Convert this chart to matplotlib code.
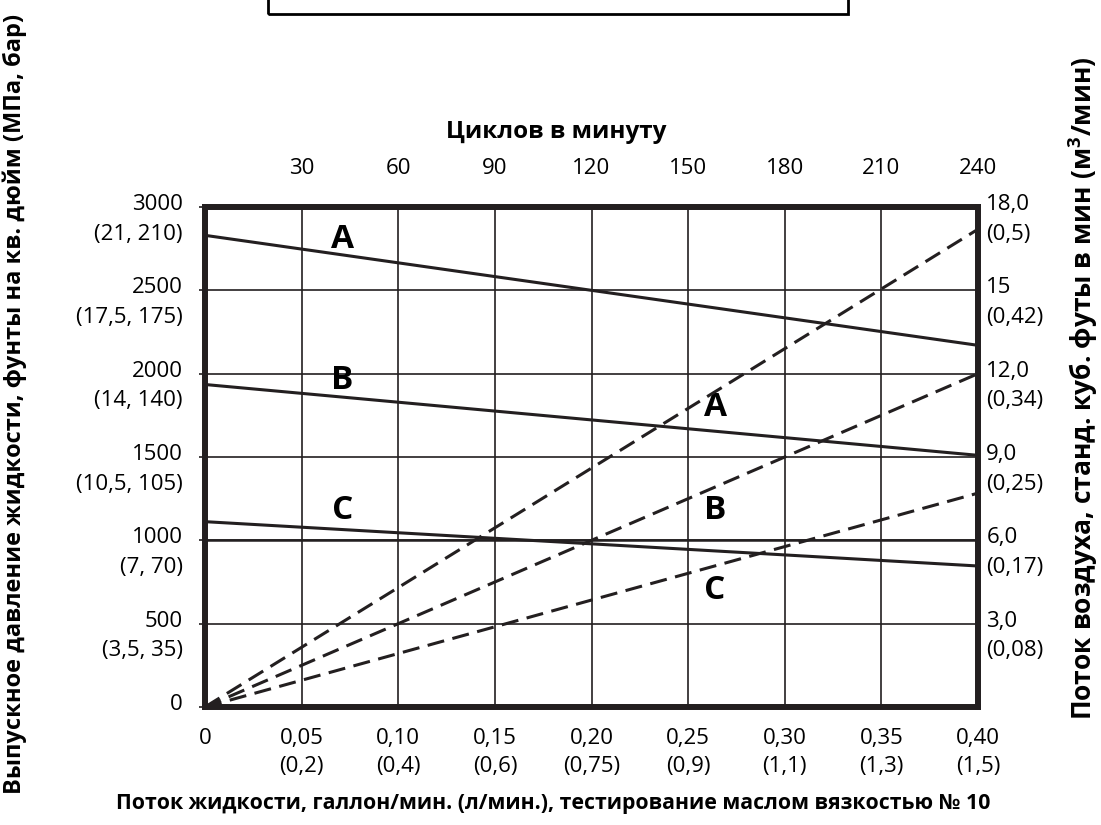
import numpy as np
import matplotlib
matplotlib.use("Agg")
from matplotlib import pyplot as plt
from matplotlib.patches import Rectangle
from matplotlib.transforms import ScaledTranslation

# --- data ---
flow_gpm = [0.0, 0.40]
pressure_A = [2830, 2170]
pressure_B = [1935, 1510]
pressure_C = [1112, 846]
air_A = [0.0, 17.2]
air_B = [0.0, 12.0]
air_C = [0.0, 7.7]

x_ticks = [0, 0.05, 0.10, 0.15, 0.20, 0.25, 0.30, 0.35, 0.40]
x_labels = ["0\n ", "0,05\n(0,2)", "0,10\n(0,4)", "0,15\n(0,6)", "0,20\n(0,75)",
            "0,25\n(0,9)", "0,30\n(1,1)", "0,35\n(1,3)", "0,40\n(1,5)"]
cycle_ticks = [30, 60, 90, 120, 150, 180, 210, 240]
psi_ticks = [0, 500, 1000, 1500, 2000, 2500, 3000]
psi_labels = ["0\n ", "500\n(3,5, 35)", "1000\n(7, 70)", "1500\n(10,5, 105)",
              "2000\n(14, 140)", "2500\n(17,5, 175)", "3000\n(21, 210)"]
scfm_ticks = [3, 6, 9, 12, 15, 18]
scfm_labels = ["3,0\n(0,08)", "6,0\n(0,17)", "9,0\n(0,25)", "12,0\n(0,34)",
               "15\n(0,42)", "18,0\n(0,5)"]

ink = "#231f20"
plt.rcParams['font.family'] = ['Open Sans', 'DejaVu Sans']
plt.rcParams['mathtext.fontset'] = 'custom'
plt.rcParams['mathtext.bf'] = 'Open Sans:bold'
tick_fs = 16
W, H = 1101, 825

fig = plt.figure(figsize=(11.01, 8.25), dpi=100)
ax = fig.add_axes([205 / W, 1 - 707 / H, 773 / W, 500 / H])
ax.set_xlim(0, 0.40)
ax.set_ylim(0, 3000)

# grid
ax.set_xticks(x_ticks)
ax.set_yticks(psi_ticks)
ax.grid(True, color=ink, lw=1.2)
ax.axhline(1000, color=ink, lw=1.8)

for s in ax.spines.values():
    s.set_linewidth(4)
    s.set_color(ink)

# pressure curves (solid)
for p in [pressure_A, pressure_B, pressure_C]:
    ax.plot(flow_gpm, p, color=ink, lw=2.2, solid_capstyle='butt')

# air curves on right axis (dashed)
ax2 = ax.twinx()
ax2.set_ylim(0, 18)
for a in [air_A, air_B, air_C]:
    line, = ax2.plot(flow_gpm, a, color=ink, lw=2.2)
    line.set_dashes([5.6, 2.8])

# top axis: cycles per minute
ax3 = ax.twiny()
ax3.set_xlim(0, 240)
ax3.set_xticks(cycle_ticks)
ax3.tick_params(axis='x', length=0, pad=20, labelsize=tick_fs)

# bottom tick labels
ax.set_xticklabels(x_labels, fontsize=tick_fs, linespacing=1.45)
ax.tick_params(axis='x', length=0, pad=15)

# left tick labels
ax.set_yticklabels(psi_labels, fontsize=tick_fs, linespacing=1.55)
ax.tick_params(axis='y', direction='out', length=4, width=1.2, color=ink, pad=12)
ax.set_yticks([1000, 2000], minor=True)
ax.tick_params(axis='y', which='minor', direction='out', length=22, width=1.6, color=ink)
shift = ScaledTranslation(0, -0.055, fig.dpi_scale_trans)
for lab in ax.get_yticklabels():
    lab.set_transform(lab.get_transform() + shift)

# right tick labels
ax2.set_yticks(scfm_ticks)
ax2.set_yticklabels(scfm_labels, fontsize=tick_fs, linespacing=1.55)
ax2.tick_params(axis='y', length=0, pad=6)
for lab in ax2.get_yticklabels():
    lab.set_transform(lab.get_transform() + shift)
for s in list(ax2.spines.values()) + list(ax3.spines.values()):
    s.set_linewidth(4)
    s.set_color(ink)

# curve letters
letter_font = dict(fontsize=24, fontweight='bold', color='black',
                   ha='center', va='center')
ax.text(0.071, 2805, "A", **letter_font)
ax.text(0.071, 1960, "B", **letter_font)
ax.text(0.071, 1180, "C", **letter_font)
ax.text(0.264, 1800, "A", **letter_font)
ax.text(0.264, 1180, "B", **letter_font)
ax.text(0.264, 700, "C", **letter_font)

# axis titles
fig.text(556 / W, 1 - 132 / H, "Циклов в минуту", ha='center', va='center',
         fontsize=17.5, fontweight='bold')
fig.text(553 / W, 1 - 803 / H,
         "Поток жидкости, галлон/мин. (л/мин.), тестирование маслом вязкостью № 10",
         ha='center', va='center', fontsize=15.3, fontweight='bold')
fig.text(15 / W, 1 - 404 / H,
         "Выпускное давление жидкости, фунты на кв. дюйм (МПа, бар)",
         rotation=90, ha='center', va='center', fontsize=17, fontweight='bold')
fig.text(1083 / W, 1 - 388 / H,
         r"Поток воздуха, станд. куб. футы в мин (м$^\mathbf{3}$/мин)",
         rotation=90, ha='center', va='center', fontsize=19, fontweight='bold')

# box cut off at the top of the page
fig.patches.append(Rectangle((268 / W, 1 - 14 / H), (848 - 268) / W, 0.05,
                             transform=fig.transFigure, fill=False,
                             edgecolor='black', lw=2, clip_on=False))

fig.savefig("out.png", dpi=100)
